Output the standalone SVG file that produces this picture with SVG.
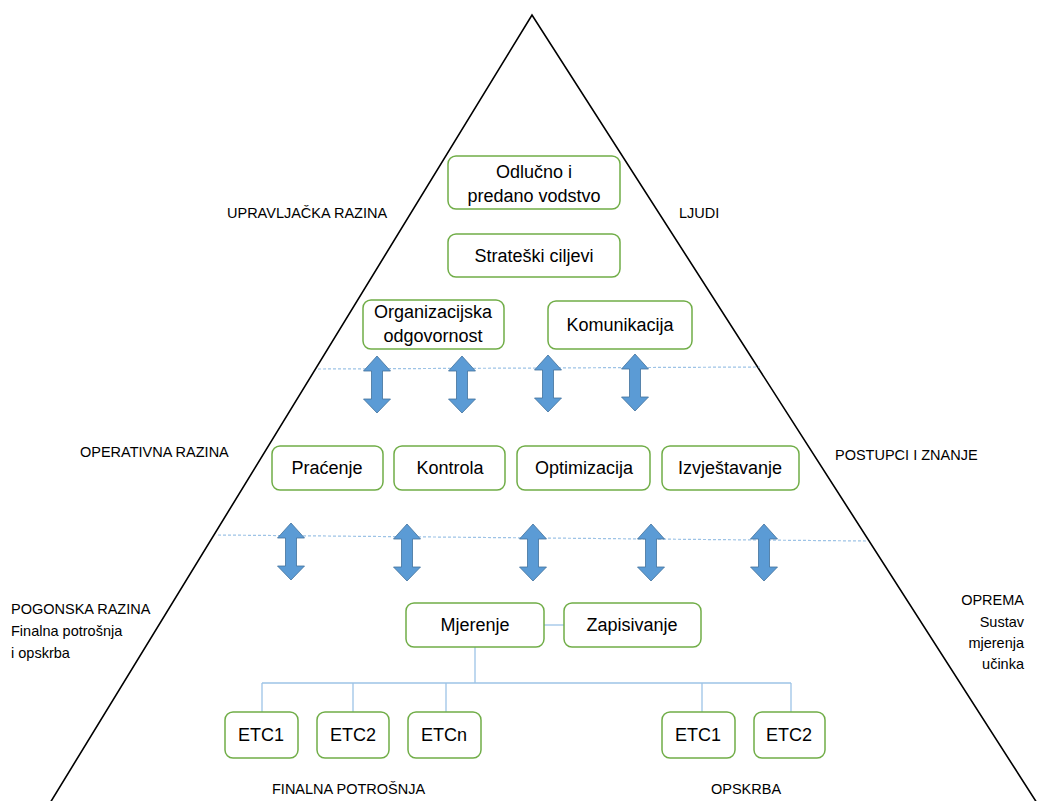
<svg xmlns="http://www.w3.org/2000/svg" width="1037" height="801" viewBox="0 0 1037 801">
<defs>
<style>
.box{fill:#fff;stroke:#70AD47;stroke-width:1.5}
.bt{font-family:"Liberation Sans",Arial,sans-serif;font-size:18px;fill:#000;text-anchor:middle}
.lb{font-family:"Liberation Sans",Arial,sans-serif;font-size:14.5px;fill:#000}
.tri{fill:none;stroke:#000;stroke-width:1.6}
.dash{stroke:#9DC3E6;stroke-width:1.2;stroke-dasharray:3,2;fill:none}
.conn{stroke:#9DC3E6;stroke-width:1.3;fill:none}
.arr{fill:#5B9BD5;stroke:#41719C;stroke-width:0.8}
</style>
<polygon id="dblarrow" class="arr" points="0,0 13.5,15 5.5,15 5.5,43 13.5,43 0,57 -13.5,43 -5.5,43 -5.5,15 -13.5,15"/>
</defs>
<rect width="1037" height="801" fill="#fff"/>
<g id="pyramid">
<polyline class="tri" points="50,803 532,15 1037,803"/>
</g>
<g id="connectors">
<line class="dash" x1="318" y1="369" x2="760" y2="367"/>
<line class="dash" x1="218" y1="535" x2="866" y2="541"/>
<line class="conn" x1="544" y1="625" x2="564" y2="625"/>
<line class="conn" x1="475" y1="647" x2="475" y2="683"/>
<line class="conn" x1="262" y1="683" x2="791" y2="683"/>
<line class="conn" x1="262" y1="683" x2="262" y2="712"/>
<line class="conn" x1="353" y1="683" x2="353" y2="712"/>
<line class="conn" x1="446" y1="683" x2="446" y2="712"/>
<line class="conn" x1="702" y1="683" x2="702" y2="712"/>
<line class="conn" x1="791" y1="683" x2="791" y2="712"/>
<use href="#dblarrow" x="377" y="356"/>
<use href="#dblarrow" x="462" y="356"/>
<use href="#dblarrow" x="548" y="355"/>
<use href="#dblarrow" x="635" y="354"/>
<use href="#dblarrow" x="291" y="523"/>
<use href="#dblarrow" x="407" y="524"/>
<use href="#dblarrow" x="533" y="524"/>
<use href="#dblarrow" x="651" y="524"/>
<use href="#dblarrow" x="764" y="524"/>
</g>
<g id="n-vodstvo"><rect class="box" x="448" y="156" width="172" height="53" rx="8"/><text class="bt" x="534" y="178">Odlučno i</text><text class="bt" x="534" y="202">predano vodstvo</text></g>
<g id="n-ciljevi"><rect class="box" x="448" y="234" width="172" height="43" rx="8"/><text class="bt" x="534" y="262">Strateški ciljevi</text></g>
<g id="n-odgovornost"><rect class="box" x="363" y="300" width="141" height="49" rx="8"/><text class="bt" x="433" y="318">Organizacijska</text><text class="bt" x="433" y="342">odgovornost</text></g>
<g id="n-komunikacija"><rect class="box" x="548" y="301" width="144" height="48" rx="8"/><text class="bt" x="620" y="331">Komunikacija</text></g>
<g id="n-pracenje"><rect class="box" x="272" y="446" width="111" height="44" rx="8"/><text class="bt" x="327" y="474">Praćenje</text></g>
<g id="n-kontrola"><rect class="box" x="394" y="446" width="111" height="44" rx="8"/><text class="bt" x="450" y="474">Kontrola</text></g>
<g id="n-optimizacija"><rect class="box" x="517" y="446" width="133" height="44" rx="8"/><text class="bt" x="584" y="474">Optimizacija</text></g>
<g id="n-izvjestavanje"><rect class="box" x="662" y="446" width="137" height="44" rx="8"/><text class="bt" x="730" y="474">Izvještavanje</text></g>
<g id="n-mjerenje"><rect class="box" x="406" y="603" width="138" height="44" rx="8"/><text class="bt" x="475" y="631">Mjerenje</text></g>
<g id="n-zapisivanje"><rect class="box" x="564" y="603" width="137" height="44" rx="8"/><text class="bt" x="632" y="631">Zapisivanje</text></g>
<g id="n-etc1a"><rect class="box" x="225" y="712" width="73" height="46" rx="8"/><text class="bt" x="261" y="741">ETC1</text></g>
<g id="n-etc2a"><rect class="box" x="317" y="712" width="72" height="46" rx="8"/><text class="bt" x="353" y="741">ETC2</text></g>
<g id="n-etcn"><rect class="box" x="408" y="712" width="73" height="46" rx="8"/><text class="bt" x="444" y="741">ETCn</text></g>
<g id="n-etc1b"><rect class="box" x="662" y="712" width="73" height="46" rx="8"/><text class="bt" x="698" y="741">ETC1</text></g>
<g id="n-etc2b"><rect class="box" x="754" y="712" width="71" height="46" rx="8"/><text class="bt" x="789" y="741">ETC2</text></g>
<g id="labels">
<text class="lb" x="227" y="218">UPRAVLJAČKA RAZINA</text>
<text class="lb" x="679" y="218">LJUDI</text>
<text class="lb" x="80" y="457">OPERATIVNA RAZINA</text>
<text class="lb" x="835" y="460">POSTUPCI I ZNANJE</text>
<text class="lb" x="11" y="614">POGONSKA RAZINA</text>
<text class="lb" x="11" y="636">Finalna potrošnja</text>
<text class="lb" x="11" y="658">i opskrba</text>
<text class="lb" x="1024" y="605" text-anchor="end">OPREMA</text>
<text class="lb" x="1024" y="627" text-anchor="end">Sustav</text>
<text class="lb" x="1024" y="648" text-anchor="end">mjerenja</text>
<text class="lb" x="1024" y="669" text-anchor="end">učinka</text>
<text class="lb" x="272" y="794">FINALNA POTROŠNJA</text>
<text class="lb" x="711" y="794">OPSKRBA</text>
</g>
</svg>
